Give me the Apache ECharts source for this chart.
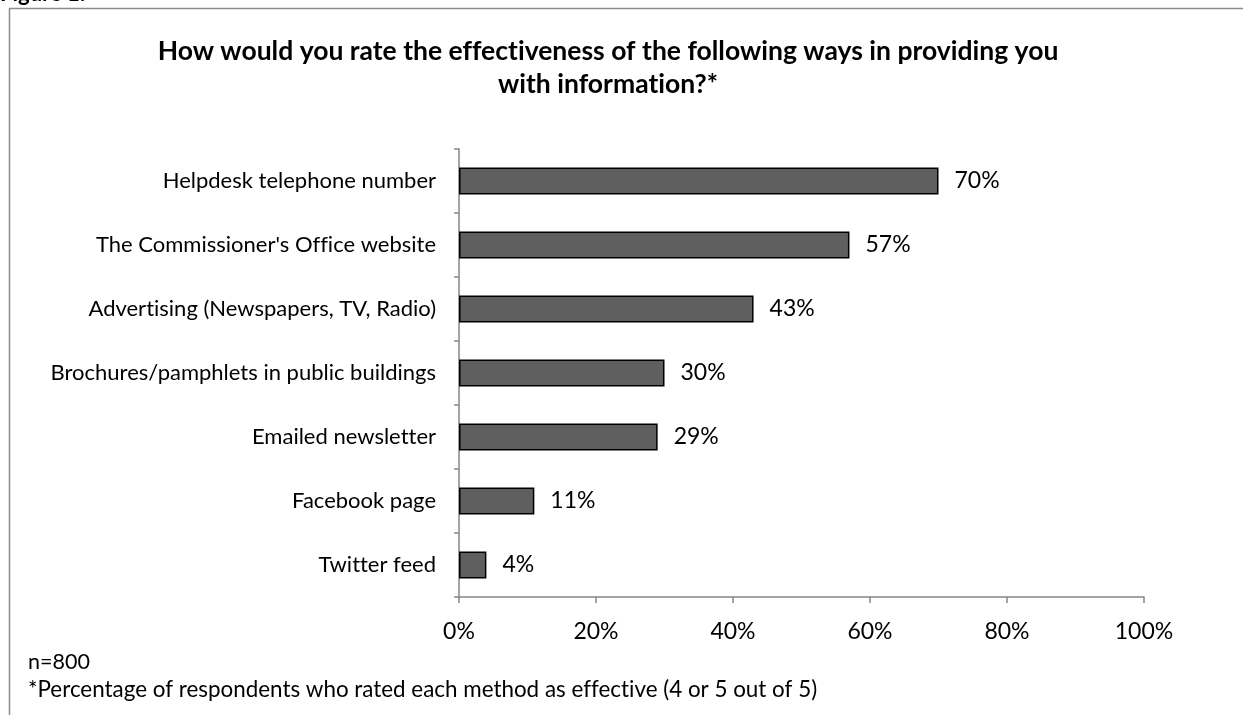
<!DOCTYPE html>
<html>
<head>
<meta charset="utf-8">
<script src="https://cdn.jsdelivr.net/npm/echarts@6/dist/echarts.min.js"></script>
<style>
  html, body { margin: 0; padding: 0; background: #ffffff; }
  #chart { width: 1243px; height: 715px; }
</style>
</head>
<body>
<div id="chart"></div>
<script>
// Survey answers: share of respondents rating each channel as effective
const categories = [
  "Helpdesk telephone number",
  "The Commissioner's Office website",
  "Advertising (Newspapers, TV, Radio)",
  "Brochures/pamphlets in public buildings",
  "Emailed newsletter",
  "Facebook page",
  "Twitter feed"
];
const values = [70, 57, 43, 30, 29, 11, 4];
const xTicks = [0, 20, 40, 60, 80, 100];

const titleLines = [
  "How would you rate the effectiveness of the following ways in providing you",
  "with information?*"
];
const notes = [
  "n=800",
  "*Percentage of respondents who rated each method as effective (4 or 5 out of 5)"
];

const FONT = "Lato, 'Open Sans', sans-serif";
const axisGray = "#868686";

// keep letters such as "ti", "tt", "fi" as separate glyphs (no ligatures)
const plain = s => s.replace(/([ft])(?=[a-z])/g, "$1\u200C");

const chart = echarts.init(document.getElementById("chart"), null, { renderer: "canvas" });

chart.setOption({
  backgroundColor: "#ffffff",
  animation: false,
  title: {
    text: titleLines.map(plain).join("\n"),
    left: 603,
    textAlign: "center",
    top: 30,
    textStyle: {
      fontFamily: FONT,
      fontWeight: "bold",
      fontSize: 26.5,
      lineHeight: 33,
      color: "#000000"
    }
  },
  grid: {
    left: 459,
    right: 1243 - 1144,
    top: 149,
    bottom: 715 - 597,
    containLabel: false
  },
  xAxis: {
    type: "value",
    min: xTicks[0],
    max: xTicks[xTicks.length - 1],
    interval: 20,
    axisLine: { show: true, lineStyle: { color: axisGray, width: 1.5 } },
    axisTick: { show: true, length: 6, lineStyle: { color: axisGray, width: 1.5 } },
    splitLine: { show: false },
    axisLabel: {
      formatter: v => v + "%",
      fontFamily: FONT,
      fontSize: 23,
      color: "#000000",
      margin: 23
    }
  },
  yAxis: {
    type: "category",
    data: categories,
    inverse: true,
    axisLine: { show: true, lineStyle: { color: axisGray, width: 1.5 } },
    axisTick: { show: true, length: 5, lineStyle: { color: axisGray, width: 1.5 } },
    axisLabel: {
      formatter: v => plain(v),
      fontFamily: FONT,
      fontSize: 22,
      color: "#000000",
      margin: 23
    }
  },
  series: [{
    type: "bar",
    data: values,
    barWidth: 27,
    itemStyle: {
      color: "#5f5f5f",
      borderColor: "#000000",
      borderWidth: 1.5
    },
    label: {
      show: true,
      position: "right",
      distance: 16,
      formatter: p => p.value + "%",
      fontFamily: FONT,
      fontSize: 23,
      color: "#000000"
    }
  }],
  graphic: [
    // chart frame (left and top edges)
    {
      type: "polyline",
      shape: { points: [[9.5, 715], [9.5, 8.5], [1243, 8.5]] },
      style: { stroke: "#8c8c8c", lineWidth: 1.5, fill: null },
      silent: true
    },
    {
      type: "text",
      left: 0,
      top: -17,
      style: {
        text: "Figure 1:",
        fontFamily: FONT,
        fontWeight: "bold",
        fontSize: 22,
        fill: "#000000"
      }
    },
    {
      type: "text",
      left: 28,
      top: 651,
      style: { text: notes[0], fontFamily: FONT, fontSize: 21.5, fill: "#000000" }
    },
    {
      type: "text",
      left: 28,
      top: 679,
      style: { text: plain(notes[1]), fontFamily: FONT, fontSize: 22.4, fill: "#000000" }
    }
  ]
});
</script>
</body>
</html>
